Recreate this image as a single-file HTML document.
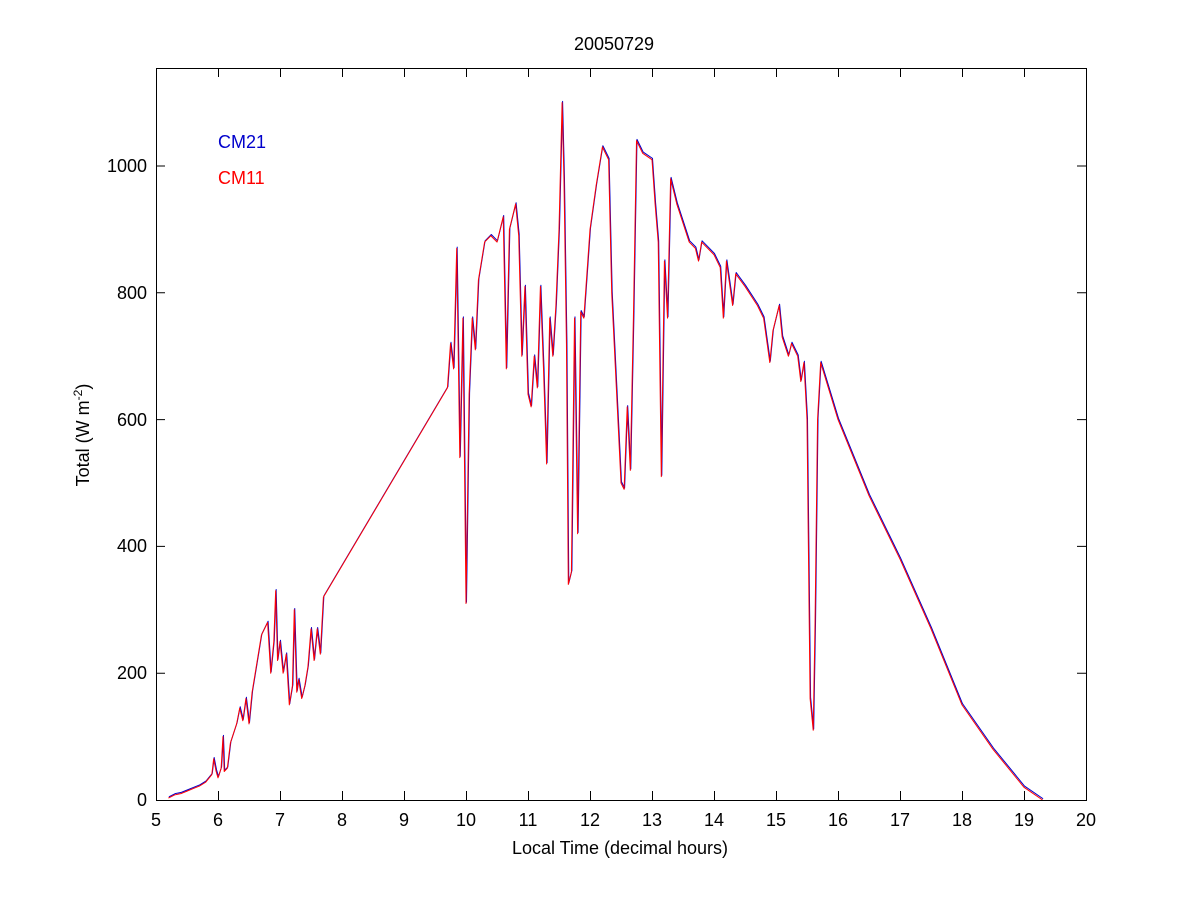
<!DOCTYPE html>
<html><head><meta charset="utf-8"><style>
html,body{margin:0;padding:0;background:#fff;}
svg{display:block;font-family:"Liberation Sans",Arial,sans-serif;}
</style></head><body>
<svg width="1200" height="900" viewBox="0 0 1200 900" xmlns="http://www.w3.org/2000/svg">
<rect width="1200" height="900" fill="#fff"/>
<text x="614" y="50" font-size="18" text-anchor="middle">20050729</text>
<g transform="translate(-154,800) scale(62,-0.634)" fill="none" stroke-linejoin="round">
<polyline vector-effect="non-scaling-stroke" stroke="#0000cc" stroke-width="1" transform="translate(0.008,2)" points="5.2,3 5.3,8 5.4,10 5.5,14 5.6,18 5.7,22 5.8,28 5.9,40 5.93,65 5.97,45 6.0,35 6.05,50 6.08,100 6.1,45 6.15,50 6.2,90 6.3,120 6.35,145 6.4,125 6.45,160 6.5,120 6.55,170 6.6,200 6.7,260 6.8,280 6.85,200 6.9,250 6.93,330 6.96,220 7.0,250 7.05,200 7.1,230 7.15,150 7.2,180 7.23,300 7.27,170 7.3,190 7.35,160 7.4,180 7.45,210 7.5,270 7.55,220 7.6,270 7.65,230 7.7,320 9.7,650 9.75,720 9.8,680 9.85,870 9.9,540 9.95,760 10.0,310 10.05,640 10.1,760 10.15,710 10.2,820 10.3,880 10.4,890 10.5,880 10.6,920 10.65,680 10.7,900 10.8,940 10.85,890 10.9,700 10.95,810 11.0,640 11.05,620 11.1,700 11.15,650 11.2,810 11.25,680 11.3,530 11.35,760 11.4,700 11.45,780 11.5,900 11.55,1100 11.58,980 11.62,720 11.65,340 11.7,360 11.75,760 11.8,420 11.85,770 11.9,760 12.0,900 12.1,970 12.2,1030 12.3,1010 12.35,800 12.45,600 12.5,500 12.55,490 12.6,620 12.65,520 12.7,760 12.75,1040 12.85,1020 13.0,1010 13.05,940 13.1,880 13.15,510 13.2,850 13.25,760 13.3,980 13.4,940 13.5,910 13.6,880 13.7,870 13.75,850 13.8,880 14.0,860 14.1,840 14.15,760 14.2,850 14.3,780 14.35,830 14.5,810 14.7,780 14.8,760 14.9,690 14.95,740 15.05,780 15.1,730 15.2,700 15.25,720 15.35,700 15.4,660 15.45,690 15.5,600 15.52,420 15.55,160 15.6,110 15.63,280 15.67,600 15.72,690 16.0,600 16.5,480 17.0,380 17.5,270 18.0,150 18.5,80 19.0,20 19.3,0"/>
<polyline vector-effect="non-scaling-stroke" stroke="#ff0000" stroke-width="1" points="5.2,3 5.3,8 5.4,10 5.5,14 5.6,18 5.7,22 5.8,28 5.9,40 5.93,65 5.97,45 6.0,35 6.05,50 6.08,100 6.1,45 6.15,50 6.2,90 6.3,120 6.35,145 6.4,125 6.45,160 6.5,120 6.55,170 6.6,200 6.7,260 6.8,280 6.85,200 6.9,250 6.93,330 6.96,220 7.0,250 7.05,200 7.1,230 7.15,150 7.2,180 7.23,300 7.27,170 7.3,190 7.35,160 7.4,180 7.45,210 7.5,270 7.55,220 7.6,270 7.65,230 7.7,320 9.7,650 9.75,720 9.8,680 9.85,870 9.9,540 9.95,760 10.0,310 10.05,640 10.1,760 10.15,710 10.2,820 10.3,880 10.4,890 10.5,880 10.6,920 10.65,680 10.7,900 10.8,940 10.85,890 10.9,700 10.95,810 11.0,640 11.05,620 11.1,700 11.15,650 11.2,810 11.25,680 11.3,530 11.35,760 11.4,700 11.45,780 11.5,900 11.55,1100 11.58,980 11.62,720 11.65,340 11.7,360 11.75,760 11.8,420 11.85,770 11.9,760 12.0,900 12.1,970 12.2,1030 12.3,1010 12.35,800 12.45,600 12.5,500 12.55,490 12.6,620 12.65,520 12.7,760 12.75,1040 12.85,1020 13.0,1010 13.05,940 13.1,880 13.15,510 13.2,850 13.25,760 13.3,980 13.4,940 13.5,910 13.6,880 13.7,870 13.75,850 13.8,880 14.0,860 14.1,840 14.15,760 14.2,850 14.3,780 14.35,830 14.5,810 14.7,780 14.8,760 14.9,690 14.95,740 15.05,780 15.1,730 15.2,700 15.25,720 15.35,700 15.4,660 15.45,690 15.5,600 15.52,420 15.55,160 15.6,110 15.63,280 15.67,600 15.72,690 16.0,600 16.5,480 17.0,380 17.5,270 18.0,150 18.5,80 19.0,20 19.3,0"/>
</g>
<g stroke="#000" stroke-width="1" fill="none">
<rect x="156.5" y="68.5" width="930" height="732"/>
<path d="M156 673.2h9M156 546.4h9M156 419.6h9M156 292.8h9M156 166h9M1086 673.2h-9M1086 546.4h-9M1086 419.6h-9M1086 292.8h-9M1086 166h-9"/>
<path d="M218.5 800v-9M280.5 800v-9M342.5 800v-9M404.5 800v-9M466.5 800v-9M528.5 800v-9M590.5 800v-9M652.5 800v-9M714.5 800v-9M776.5 800v-9M838.5 800v-9M900.5 800v-9M962.5 800v-9M1024.5 800v-9M218.5 68v9M280.5 68v9M342.5 68v9M404.5 68v9M466.5 68v9M528.5 68v9M590.5 68v9M652.5 68v9M714.5 68v9M776.5 68v9M838.5 68v9M900.5 68v9M962.5 68v9M1024.5 68v9"/>
</g>
<g font-size="18" text-anchor="end">
<text x="147" y="806">0</text><text x="147" y="679">200</text><text x="147" y="552">400</text><text x="147" y="426">600</text><text x="147" y="299">800</text><text x="147" y="172">1000</text>
</g>
<g font-size="18" text-anchor="middle">
<text x="156" y="826">5</text><text x="218" y="826">6</text><text x="280" y="826">7</text><text x="342" y="826">8</text><text x="404" y="826">9</text><text x="466" y="826">10</text><text x="528" y="826">11</text><text x="590" y="826">12</text><text x="652" y="826">13</text><text x="714" y="826">14</text><text x="776" y="826">15</text><text x="838" y="826">16</text><text x="900" y="826">17</text><text x="962" y="826">18</text><text x="1024" y="826">19</text><text x="1086" y="826">20</text>
<text x="620" y="854">Local Time (decimal hours)</text>
</g>
<text transform="translate(89,435) rotate(-90)" font-size="18" text-anchor="middle">Total (W m<tspan font-size="12" dy="-7">-2</tspan><tspan dy="7">)</tspan></text>
<text x="218" y="148" font-size="18" fill="#0000cc">CM21</text>
<text x="218" y="184" font-size="18" fill="#ff0000">CM11</text>
</svg>
</body></html>
